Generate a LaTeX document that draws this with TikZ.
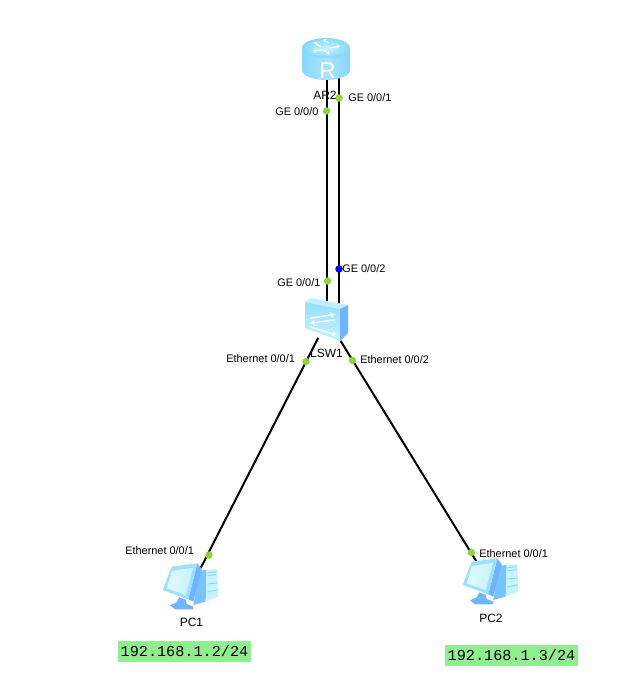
\documentclass[tikz,border=0pt]{standalone}
\usepackage{fontspec}
\setmainfont{Liberation Sans}
\setmonofont{Liberation Mono}
\usetikzlibrary{arrows.meta}
\definecolor{dotgreen}{HTML}{8CD63C}
\definecolor{iconlight}{HTML}{C6F3FF}
\definecolor{iconmid}{HTML}{85D8FC}
\definecolor{iconblue}{HTML}{6FB4FF}
\definecolor{ipgreen}{HTML}{90EE90}
\tikzset{
  link/.style={draw=black,line width=1.5pt},
  port/.style={circle,fill=dotgreen,draw=none,minimum size=5.6pt,inner sep=0pt},
  portblue/.style={port,fill=blue},
  portlabel/.style={font=\fontsize{8.2}{10}\selectfont,inner sep=0pt},
  devlabel/.style={font=\fontsize{9}{11}\selectfont,inner sep=0pt},
  ipbox/.style={fill=ipgreen,font=\ttfamily\fontsize{11.4}{14}\selectfont,inner sep=0pt,minimum width=99.5pt,minimum height=16pt},
  whitearrow/.style={draw=white,line width=1pt,-{Stealth[length=3.5pt,width=4pt]}},
  routerarrow/.style={draw=white,line width=.9pt,-{Stealth[length=2.5pt,width=3pt]}},
  pcicon/.pic={
    \begin{scope}[x=.25pt,y=-.25pt]
      % tower
      \fill[iconblue!60!iconmid] (118,32) -- (140,30) -- (137,125) -- (100,135) -- cycle;
      \fill[iconlight] (140,30) -- (172,27) -- (175,110) -- (137,125) -- cycle;
      \draw[iconmid,line width=.7pt] (143,38) -- (170,35) (143,47) -- (170,44) (143,72) -- (172,69) (143,95) -- (172,90);
      % base
      \fill[iconblue] (58,112) -- (78,120) -- (80,132) -- (100,140) -- (100,148) -- (45,148) -- (30,136) -- (50,127) -- cycle;
      % monitor
      \fill[iconblue] (112,10) -- (125,28) -- (100,125) -- (85,118) -- cycle;
      \fill[iconmid!80!white] (35,20) -- (112,10) -- (85,118) -- (8,90) -- cycle;
      \shade[left color=iconlight!50!white,right color=iconlight] (36,33) -- (100,23) -- (77,105) -- (20,85) -- cycle;
    \end{scope}
  }
}
\begin{document}
\begin{tikzpicture}[x=.75pt,y=-.75pt]
\useasboundingbox (0,0) rectangle (642,690);
% attachment points
\coordinate (r0) at (326.5,72);
\coordinate (r1) at (339,72);
\coordinate (s0) at (326.5,305);
\coordinate (s1) at (339,305);
\coordinate (s2) at (318.3,337.7);
\coordinate (s3) at (340.7,341);
\coordinate (p1) at (200.7,568);
\coordinate (p2) at (478,564);
% connectors
\draw[link] (r0) -- (s0);
\draw[link] (r1) -- (s1);
\draw[link] (s2) -- (p1);
\draw[link] (s3) -- (p2);
% router
\shade[left color=iconmid,right color=iconmid,middle color=iconmid!70!white]
  (302,48) -- (302,70) arc[start angle=180,end angle=0,x radius=24,y radius=10] -- (350,48) -- cycle;
\shade[inner color=iconlight,outer color=iconmid] (326,48) ellipse[x radius=24,y radius=10];
\draw[routerarrow] (321,47) -- (314,42);
\draw[routerarrow] (330,48) -- (340,46);
\draw[routerarrow] (329,43) -- (323,39.5);
\draw[routerarrow] (322,50) -- (313,51);
\draw[routerarrow] (323,50) -- (330,54);
\node[text=white,font=\fontsize{17}{18}\selectfont,inner sep=0pt] (rlabel) at (327.5,70.5) {R};
% switch
\fill[iconlight!90!iconmid] (311,298) -- (348,305) -- (340,309) -- (305,302) -- cycle;
\shade[top color=iconmid!75!iconlight,bottom color=iconlight] (305,302) -- (340,309) -- (340,341) -- (305,328) -- cycle;
\fill[iconblue] (340,309) -- (348,305) -- (348,333) -- (340,341) -- cycle;
\draw[whitearrow] (310,318.3) -- (335,314.3);
\draw[whitearrow] (335,320) -- (310,323);
\draw[whitearrow] (310,326.7) -- (336.7,335);
% PCs
\pic (pcone) at (160,560) {pcicon};
\pic (pctwo) at (460,555) {pcicon};
% ports
\node[port] (dr0) at (326.5,111) {};
\node[port] (dr1) at (339,98) {};
\node[port] (ds0) at (327.5,281) {};
\node[portblue] (ds1) at (339,269) {};
\node[port] (ds2) at (306,361.5) {};
\node[port] (ds3) at (352.5,360.5) {};
\node[port] (dp1) at (209,555) {};
\node[port] (dp2) at (471.5,552.5) {};
% port labels
\node[portlabel,anchor=west] at (275,112) {GE 0/0/0};
\node[portlabel,anchor=west] at (348,97.5) {GE 0/0/1};
\node[portlabel,anchor=west] at (277,283) {GE 0/0/1};
\node[portlabel,anchor=west] at (342,269) {GE 0/0/2};
\node[portlabel,anchor=west] at (226,358.5) {Ethernet 0/0/1};
\node[portlabel,anchor=west] at (360,360) {Ethernet 0/0/2};
\node[portlabel,anchor=west] at (125,551) {Ethernet 0/0/1};
\node[portlabel,anchor=west] at (479,554) {Ethernet 0/0/1};
% device labels
\node[devlabel] (ar2) at (325,95) {AR2};
\node[devlabel] (lsw1) at (326.5,353) {LSW1};
\node[devlabel] (pc1) at (191.5,622) {PC1};
\node[devlabel] (pc2) at (491,618) {PC2};
% address labels
\node[ipbox] (ip1) at (184.5,651.5) {192.168.1.2/24};
\node[ipbox] (ip2) at (511.5,655.5) {192.168.1.3/24};
\end{tikzpicture}
\end{document}
